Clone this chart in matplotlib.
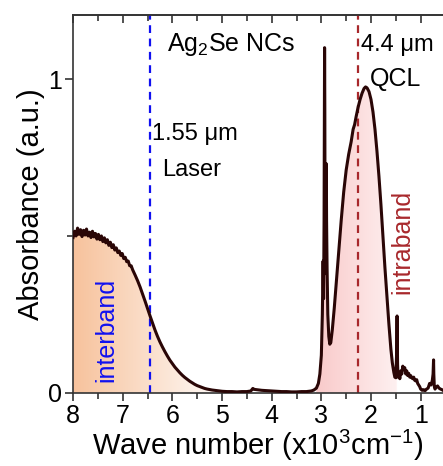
import numpy as np
import matplotlib.pyplot as plt
from matplotlib.colors import to_rgb

plt.rcParams['font.family'] = ['Liberation Sans', 'DejaVu Sans']
plt.rcParams['mathtext.fontset'] = 'custom'
plt.rcParams['mathtext.rm'] = 'Liberation Sans'
plt.rcParams['mathtext.it'] = 'Liberation Sans'

# ============================================================================
# DATA
# ============================================================================

# interband part, wave number in 10^3 cm^-1
wn_inter = [8.00, 7.97, 7.94, 7.91, 7.88, 7.85, 7.82, 7.79, 7.76, 7.73, 7.70,
            7.67, 7.64, 7.61, 7.58, 7.55, 7.52, 7.49, 7.46, 7.43, 7.40, 7.37,
            7.34, 7.31, 7.28, 7.25, 7.22, 7.19, 7.16, 7.13, 7.10, 7.07, 7.04,
            7.01, 6.98, 6.95, 6.92, 6.89, 6.86, 6.83, 6.80, 6.75, 6.70, 6.65,
            6.60, 6.55, 6.50, 6.45, 6.40, 6.35, 6.30, 6.25, 6.20, 6.15, 6.10,
            6.05, 6.00, 5.95, 5.90, 5.85, 5.80, 5.75, 5.70, 5.65, 5.60, 5.55,
            5.50, 5.45, 5.40, 5.35, 5.30, 5.20, 5.10, 5.00, 4.90, 4.80, 4.70,
            4.60, 4.50, 4.42, 4.38, 4.35, 4.30, 4.20, 4.10, 4.00, 3.90, 3.80,
            3.70, 3.60, 3.50, 3.40, 3.30, 3.20, 3.15, 3.10]
abs_inter = [0.495, 0.515, 0.500, 0.525, 0.505, 0.520, 0.498, 0.518, 0.503, 0.522,
             0.500, 0.512, 0.495, 0.515, 0.497, 0.508, 0.490, 0.505, 0.488, 0.500,
             0.482, 0.494, 0.478, 0.488, 0.470, 0.480, 0.463, 0.472, 0.455, 0.462,
             0.447, 0.452, 0.438, 0.444, 0.428, 0.432, 0.418, 0.420, 0.405, 0.405,
             0.392, 0.375, 0.357, 0.337, 0.315, 0.292, 0.268, 0.245, 0.222, 0.200,
             0.180, 0.162, 0.146, 0.131, 0.117, 0.104, 0.093, 0.082, 0.073, 0.064,
             0.056, 0.049, 0.043, 0.037, 0.032, 0.027, 0.023, 0.020, 0.017, 0.014,
             0.012, 0.009, 0.007, 0.005, 0.004, 0.004, 0.003, 0.004, 0.004, 0.006,
             0.014, 0.011, 0.010, 0.008, 0.007, 0.006, 0.005, 0.004, 0.004, 0.003,
             0.003, 0.004, 0.004, 0.006, 0.009, 0.015]

# intraband part
wn_intra = [3.06, 3.03, 3.00, 2.98, 2.965, 2.955, 2.945, 2.935, 2.93, 2.925,
            2.915, 2.905, 2.90, 2.895, 2.885, 2.87, 2.85, 2.83, 2.81, 2.78,
            2.74, 2.70, 2.65, 2.60, 2.55, 2.50, 2.45, 2.40, 2.36, 2.33, 2.30,
            2.26, 2.22, 2.18, 2.14, 2.11, 2.08, 2.04, 2.00, 1.96, 1.92, 1.88,
            1.84, 1.80, 1.76, 1.72, 1.68, 1.64, 1.60, 1.57, 1.54, 1.52, 1.50,
            1.485, 1.475, 1.465, 1.455, 1.44, 1.42, 1.40, 1.38, 1.36, 1.34,
            1.32, 1.30, 1.28, 1.26, 1.24, 1.22, 1.20, 1.18, 1.16, 1.14, 1.12,
            1.10, 1.08, 1.06, 1.04, 1.02, 1.00, 0.97, 0.94, 0.91, 0.88, 0.85,
            0.82, 0.79, 0.765, 0.75, 0.74, 0.735, 0.725, 0.71, 0.69, 0.66,
            0.63, 0.60, 0.57, 0.55]
abs_intra = [0.030, 0.060, 0.120, 0.250, 0.420, 0.300, 0.550, 1.100, 0.900, 0.450,
             0.380, 0.600, 0.730, 0.550, 0.400, 0.250, 0.180, 0.155, 0.160, 0.200,
             0.270, 0.350, 0.450, 0.550, 0.640, 0.710, 0.760, 0.800, 0.840, 0.855,
             0.880, 0.910, 0.935, 0.955, 0.970, 0.975, 0.972, 0.960, 0.935, 0.895,
             0.840, 0.770, 0.690, 0.600, 0.500, 0.400, 0.310, 0.220, 0.140, 0.095,
             0.065, 0.050, 0.048, 0.120, 0.245, 0.090, 0.050, 0.065, 0.045, 0.070,
             0.060, 0.085, 0.075, 0.080, 0.060, 0.070, 0.055, 0.062, 0.050, 0.055,
             0.048, 0.045, 0.050, 0.040, 0.038, 0.042, 0.030, 0.025, 0.020, 0.012,
             0.008, 0.010, 0.007, 0.012, 0.015, 0.030, 0.025, 0.040, 0.060, 0.105,
             0.060, 0.020, 0.012, 0.018, 0.022, 0.015, 0.012, 0.010, 0.008]

laser_wn = 6.45   # 1.55 um
qcl_wn = 2.27     # 4.4 um

wn = np.array(wn_inter + wn_intra)
absorb = np.array(abs_inter + abs_intra)

# ============================================================================
# FIGURE
# ============================================================================

fig = plt.figure(figsize=(4.43, 4.66), dpi=100)
ax = fig.add_axes([0.165, 0.157, 0.835, 0.810])

XMIN, XMAX = 8.0, 0.55
YMIN, YMAX = 0.0, 1.203

# gradient fill under the curve (orange for interband, pink for intraband)
xg = np.linspace(XMIN, XMAX, 800)
img = np.ones((2, len(xg), 3))
orange = np.array(to_rgb('#F7C29C'))
pink = np.array(to_rgb('#F9CACA'))
pink_end = np.array(to_rgb('#FEF0F0'))
for i, x in enumerate(xg):
    if x >= 4.8:
        t = (XMIN - x) / (XMIN - 4.8)
        img[:, i] = orange * (1 - t) + np.ones(3) * t
    elif 3.1 >= x >= 1.48:
        t = (3.1 - x) / (3.1 - 1.48)
        img[:, i] = pink * (1 - t) + pink_end * t
im = ax.imshow(img, extent=[XMIN, XMAX, YMIN, YMAX], aspect='auto',
               origin='lower', zorder=1)
poly = ax.fill_between(wn, 0, absorb, color='none', zorder=0)
im.set_clip_path(poly.get_paths()[0], transform=ax.transData)

ax.plot(wn, absorb, color='#2A0606', lw=2.2, zorder=3)

ax.axvline(laser_wn, color='#1010F0', ls=(0, (3.5, 2.5)), lw=1.6, zorder=2)
ax.axvline(qcl_wn, color='#A8282C', ls=(0, (3.5, 2.5)), lw=1.6, zorder=2)

ax.set_xlim(XMIN, XMAX)
ax.set_ylim(YMIN, YMAX)

ax.set_xticks([8, 7, 6, 5, 4, 3, 2, 1])
ax.set_xticks(np.arange(7.5, 0.5, -1.0), minor=True)
ax.set_yticks([0, 1])
ax.set_yticks([0.5], minor=True)

ax.spines['right'].set_visible(False)
for s in ['left', 'bottom', 'top']:
    ax.spines[s].set_linewidth(1.2)
    ax.spines[s].set_color('#333333')

ax.tick_params(axis='x', which='both', direction='out', labelsize=18,
               width=1.2, color='#333333', pad=2)
ax.tick_params(axis='x', which='major', length=6)
ax.tick_params(axis='x', which='minor', length=4)
ax.tick_params(axis='y', which='both', direction='out', labelsize=18,
               width=1.2, color='#333333', pad=2)
ax.tick_params(axis='y', which='major', length=6)
ax.tick_params(axis='y', which='minor', length=4)

# top ticks point into the axes
top = ax.secondary_xaxis('top')
top.set_xticks([8, 7, 6, 5, 4, 3, 2, 1])
top.set_xticks(np.arange(7.5, 0.5, -1.0), minor=True)
top.tick_params(which='both', direction='in', labeltop=False, width=1.2,
                color='#333333')
top.tick_params(which='major', length=6)
top.tick_params(which='minor', length=4)
top.spines['top'].set_linewidth(1.2)
top.spines['top'].set_color('#333333')

ax.set_xlabel('Wave number (x10$^3$cm$^{-1}$)', fontsize=21, labelpad=0)
ax.set_ylabel('Absorbance (a.u.)', fontsize=21, labelpad=2)

ax.text(6.1, 1.11, 'Ag$_2$Se NCs', fontsize=18, ha='left', va='center')
ax.text(6.42, 0.825, '1.55 \u03bcm', fontsize=17, ha='left', va='center')
ax.text(6.2, 0.71, 'Laser', fontsize=17, ha='left', va='center')
ax.text(2.2, 1.11, '4.4 \u03bcm', fontsize=17, ha='left', va='center')
ax.text(2.03, 1.0, 'QCL', fontsize=18, ha='left', va='center')
ax.text(7.32, 0.20, 'interband', fontsize=18, color='#1010F0', rotation=90,
        ha='center', va='center')
ax.text(1.36, 0.48, 'intraband', fontsize=18, color='#A8282C', rotation=90,
        ha='center', va='center')

fig.savefig('out.png', dpi=100)
